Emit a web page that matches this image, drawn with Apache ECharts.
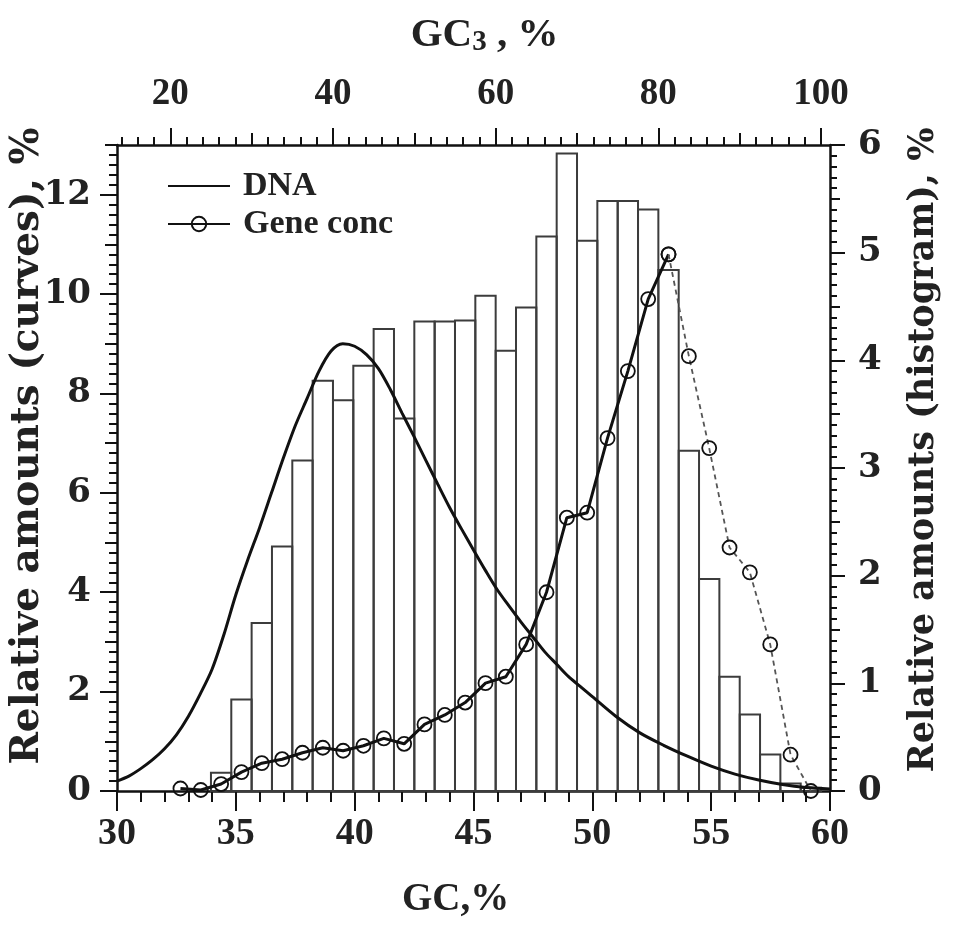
<!DOCTYPE html>
<html><head><meta charset="utf-8">
<script src="https://cdn.jsdelivr.net/npm/echarts@6/dist/echarts.min.js"></script>
<style>html,body{margin:0;padding:0;background:#fff}#c{width:959px;height:926px}</style>
</head><body><div id="c"></div>
<script>
// DNA distribution curve: GC (%) vs relative amount (%), left axis
const dnaGC  = [30,30.5,31,31.5,32,32.5,33,33.5,34,34.5,35,35.5,36,36.5,37,37.5,38,38.5,39,39.5,40,40.5,41,41.5,42,42.5,43,43.5,44,44.5,45,45.5,46,46.5,47,47.5,48,48.5,49,49.5,50,51,52,53,54,55,56,57,58,59,60];
const dnaVal = [0.2,0.3,0.45,0.63,0.85,1.13,1.5,1.95,2.45,3.15,3.95,4.65,5.3,6.0,6.7,7.35,7.9,8.45,8.85,9.0,8.95,8.78,8.5,8.08,7.6,7.13,6.65,6.17,5.7,5.27,4.85,4.44,4.05,3.72,3.4,3.1,2.8,2.55,2.3,2.1,1.9,1.5,1.17,0.92,0.7,0.5,0.34,0.22,0.13,0.07,0.04];

// Histogram: GC3 bins (lower edge, %) and relative amounts (%), right axis
const histBinStart = [25,27.5,30,32.5,35,37.5,40,42.5,45,47.5,50,52.5,55,57.5,60,62.5,65,67.5,70,72.5,75,77.5,80,82.5,85,87.5,90,92.5,95,97.5];
const histVal      = [0.17,0.85,1.56,2.27,3.07,3.81,3.63,3.95,4.29,3.46,4.36,4.36,4.37,4.6,4.09,4.49,5.15,5.92,5.11,5.48,5.48,5.40,4.84,3.16,1.97,1.06,0.71,0.34,0.07,0.03];
const histBinWidth = 2.5;

// Gene concentration: GC3 bin centres (%) vs relative amount (%), left axis
const geneGC3 = [21.25,23.75,26.25,28.75,31.25,33.75,36.25,38.75,41.25,43.75,46.25,48.75,51.25,53.75,56.25,58.75,61.25,63.75,66.25,68.75,71.25,73.75,76.25,78.75,81.25,83.75,86.25,88.75,91.25,93.75,96.25,98.75];
const geneVal = [0.05,0.02,0.14,0.38,0.56,0.64,0.77,0.87,0.81,0.91,1.06,0.95,1.34,1.53,1.78,2.17,2.3,2.95,4.0,5.5,5.6,7.1,8.45,9.9,10.8,8.75,6.9,4.9,4.4,2.95,0.73,0.0];
const geneSolidLastIndex = 24; // solid line up to 81.25, dashed afterwards

// Axis tick labels
const bottomLabels = [30,35,40,45,50,55,60];
const topLabels = [20,40,60,80,100];
const topMidTicks = [30,50,70,90];
const leftLabels = [0,2,4,6,8,10,12];
const rightLabels = [0,1,2,3,4,5,6];
const rightHalfTicks = [0.5,1.5,2.5,3.5,4.5,5.5];

const topMin = 13.45, topMax = 101.1;
const topMinorTicks = [];
for (let v = 14; v <= 100; v += 2) topMinorTicks.push(v);

const INK = '#111';
const serifN = 'Liberation Serif';
const serifW = 'DejaVu Serif';

function lineAx(){ return {show:true, onZero:false, lineStyle:{color:INK, width:2.5}}; }
function hiddenLine(){ return {show:false, onZero:false}; }

const chart = echarts.init(document.getElementById('c'), null, {renderer:'canvas'});
const option = {
  backgroundColor:'#fff',
  animation:false,
  grid:{left:117, right:129, top:145, bottom:135, containLabel:false, outerBoundsMode:'none'},
  legend:{
    data:[{name:'DNA', itemStyle:{opacity:0}}, {name:'Gene conc'}], orient:'vertical', left:162, top:164,
    itemWidth:62, itemHeight:18, itemGap:4,
    textStyle:{fontFamily:serifN, fontWeight:'bold', fontSize:34, color:'#222', padding:[0,0,0,8]}
  },
  xAxis:[
    { type:'value', position:'bottom', min:bottomLabels[0], max:bottomLabels[bottomLabels.length-1], interval:5,
      axisLine:lineAx(), splitLine:{show:false},
      axisTick:{show:true, length:20, lineStyle:{color:INK, width:2}},
      minorTick:{show:true, splitNumber:5, length:11, lineStyle:{color:INK, width:2}},
      axisLabel:{fontFamily:serifN, fontWeight:'bold', fontSize:38, color:'#222', margin:24},
      name:'GC,%', nameLocation:'middle', nameGap:89,
      nameTextStyle:{fontFamily:serifN, fontWeight:'bold', fontSize:39, color:'#222', padding:[0,36,0,0]}
    },
    { type:'value', position:'top', min:topMin, max:topMax,
      axisLine:lineAx(), splitLine:{show:false},
      axisTick:{show:true, length:17, customValues:topLabels, lineStyle:{color:INK, width:2}},
      axisLabel:{customValues:topLabels, fontFamily:serifN, fontWeight:'bold', fontSize:37, color:'#222', margin:32},
      name:'{a|GC}{b|3}{a| , %}', nameLocation:'middle', nameGap:88,
      nameTextStyle:{fontFamily:serifN, fontWeight:'bold', fontSize:40, color:'#222', padding:[0,0,0,22],
        rich:{a:{fontFamily:serifN, fontWeight:'bold', fontSize:41, color:'#222', lineHeight:44},
              b:{fontFamily:serifN, fontWeight:'bold', fontSize:29, color:'#222', lineHeight:14, verticalAlign:'bottom'}}}
    },
    { type:'value', position:'top', min:topMin, max:topMax,
      axisLine:hiddenLine(), splitLine:{show:false}, axisLabel:{show:false},
      axisTick:{show:true, length:12, customValues:topMidTicks, lineStyle:{color:INK, width:2}}
    },
    { type:'value', position:'top', min:topMin, max:topMax,
      axisLine:hiddenLine(), splitLine:{show:false}, axisLabel:{show:false},
      axisTick:{show:true, length:8, customValues:topMinorTicks, lineStyle:{color:INK, width:2}}
    }
  ],
  yAxis:[
    { type:'value', position:'left', min:0, max:13, interval:1,
      axisLine:lineAx(), splitLine:{show:false},
      axisTick:{show:true, length:12, lineStyle:{color:INK, width:2}},
      minorTick:{show:true, splitNumber:5, length:8, lineStyle:{color:INK, width:2}},
      axisLabel:{customValues:leftLabels, fontFamily:serifW, fontWeight:'bold', fontSize:34, color:'#222', margin:26},
      name:'Relative amounts (curves), %', nameLocation:'middle', nameRotate:90, nameGap:70, nameMoveOverlap:false,
      nameTextStyle:{fontFamily:serifW, fontWeight:'bold', fontSize:39, color:'#222', padding:[0,0,0,44]}
    },
    { type:'value', position:'right', min:0, max:6, interval:1,
      axisLine:lineAx(), splitLine:{show:false},
      axisTick:{show:true, length:15, lineStyle:{color:INK, width:2}},
      minorTick:{show:true, splitNumber:10, length:7, lineStyle:{color:INK, width:2}},
      axisLabel:{customValues:rightLabels, fontFamily:serifW, fontWeight:'bold', fontSize:34, color:'#222', margin:28},
      name:'Relative amounts (histogram), %', nameLocation:'middle', nameRotate:90, nameGap:76,
      nameTextStyle:{fontFamily:serifW, fontWeight:'bold', fontSize:35, color:'#222', padding:[0,0,0,36]}
    },
    { type:'value', position:'left', min:0, max:13,
      axisLine:hiddenLine(), splitLine:{show:false}, axisLabel:{show:false},
      axisTick:{show:true, length:17, customValues:leftLabels, lineStyle:{color:INK, width:2}}
    },
    { type:'value', position:'right', min:0, max:6,
      axisLine:hiddenLine(), splitLine:{show:false}, axisLabel:{show:false},
      axisTick:{show:true, length:10, customValues:rightHalfTicks, lineStyle:{color:INK, width:2}}
    }
  ],
  series:[
    { type:'custom', name:'histogram', xAxisIndex:1, yAxisIndex:1, z:1,
      data: histBinStart.map((x,i)=>[x, x+histBinWidth, histVal[i]]),
      encode:{x:[0,1], y:2},
      renderItem:function(params, api){
        const p0 = api.coord([api.value(0), 0]);
        const p1 = api.coord([api.value(1), api.value(2)]);
        return {type:'rect', shape:{x:p0[0], y:p1[1], width:p1[0]-p0[0], height:p0[1]-p1[1]},
                style:{fill:'none', stroke:'#3c3c3c', lineWidth:2}};
      },
      silent:true
    },
    { type:'line', name:'DNA', xAxisIndex:0, yAxisIndex:0, z:3,
      data: dnaGC.map((x,i)=>[x, dnaVal[i]]), smooth:0.3, symbol:'none',
      lineStyle:{color:INK, width:3}, itemStyle:{color:INK}
    },
    { type:'line', name:'Gene conc', xAxisIndex:1, yAxisIndex:0, z:4,
      data: geneGC3.slice(0, geneSolidLastIndex+1).map((x,i)=>[x, geneVal[i]]),
      symbol:'circle', symbolSize:14, showAllSymbol:true,
      lineStyle:{color:INK, width:3},
      itemStyle:{color:'rgba(255,255,255,0)', borderColor:INK, borderWidth:1.8}
    },
    { type:'line', name:'Gene conc dashed', xAxisIndex:1, yAxisIndex:0, z:4,
      data: geneGC3.slice(geneSolidLastIndex).map((x,i)=>[x, geneVal[i+geneSolidLastIndex]]),
      symbol:'circle', symbolSize:14, showAllSymbol:true,
      lineStyle:{color:'#555', width:1.8, type:[5,4]},
      itemStyle:{color:'rgba(255,255,255,0)', borderColor:INK, borderWidth:1.8}
    }
  ]
};
chart.setOption(option);
</script>
</body></html>
